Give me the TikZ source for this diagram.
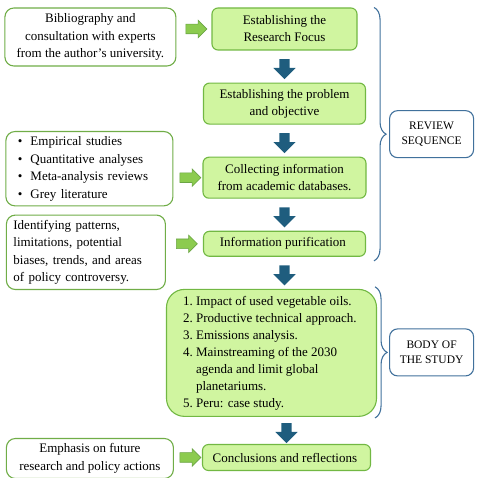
\documentclass[tikz,border=0pt]{standalone}
\usepackage{fontspec}
\setmainfont{Liberation Serif}
\usetikzlibrary{shapes.arrows, positioning, calc, decorations.pathreplacing}
\definecolor{stepfill}{HTML}{D0F5A0}
\definecolor{stepgreen}{HTML}{72B843}
\definecolor{notegreen}{HTML}{70AD47}
\definecolor{arrowgreen}{HTML}{8CCB4F}
\definecolor{arrowgreenline}{HTML}{6BA545}
\definecolor{arrowblue}{HTML}{1F5D7E}
\definecolor{braceblue}{HTML}{41719C}

\begin{document}
\begin{tikzpicture}[
    x=1pt, y=-1pt,
    main_step/.style={
        rectangle,
        draw=stepgreen,
        fill=stepfill,
        line width=1.1pt,
        rounded corners=6pt,
        inner sep=4pt,
        align=center,
        font=\fontsize{13}{17}\selectfont
    },
    side_note/.style={
        rectangle,
        draw=notegreen,
        fill=white,
        line width=1.1pt,
        rounded corners=9pt,
        inner sep=5pt,
        font=\fontsize{13}{17.5}\selectfont
    },
    stage_label/.style={
        rectangle,
        draw=braceblue,
        fill=white,
        line width=1.1pt,
        rounded corners=8pt,
        align=center,
        minimum width=84pt,
        minimum height=47pt,
        font=\fontsize{11.5}{15}\selectfont
    },
    green_arrow/.style={
        single arrow,
        draw=arrowgreenline,
        fill=arrowgreen,
        line width=0.6pt,
        minimum height=21pt,
        inner xsep=0pt,
        inner ysep=4.5pt,
        single arrow head extend=4pt
    },
    down_arrow/.style={
        single arrow,
        draw=none,
        fill=arrowblue,
        rotate=-90,
        minimum height=20pt,
        inner xsep=0pt,
        inner ysep=5pt,
        single arrow head extend=6pt
    },
    brace_line/.style={
        decorate,
        decoration={brace, amplitude=12pt},
        draw=braceblue,
        line width=1.1pt
    }
]
\useasboundingbox (0,0) rectangle (480,478);

% Main sequence of the review
\node[main_step, minimum width=145pt, minimum height=42pt] (focus) at (284.5,29) {
    Establishing the \\ Research Focus
};
\node[main_step, minimum width=162pt, minimum height=41pt, below=32pt of focus] (problem) {
    Establishing the problem \\ and objective
};
\node[main_step, minimum width=163pt, minimum height=41pt, below=32pt of problem] (collect) {
    Collecting information \\ from academic databases.
};
\node[main_step, minimum width=162pt, minimum height=25pt, below=32pt of collect] (purif) {
    Information purification
};
\node[main_step, rounded corners=18pt, inner ysep=1pt, minimum width=210pt, minimum height=127pt,
      below=32pt of purif, xshift=-13pt] (body) {
    \begin{tabular}{@{}r@{\ }l@{}}
        1. & Impact of used vegetable oils. \\
        2. & Productive technical approach. \\
        3. & Emissions analysis. \\
        4. & Mainstreaming of the 2030 \\
           & agenda and limit global \\
           & planetariums. \\
        5. & Peru: case study.
    \end{tabular}
};
\node[main_step, minimum width=168pt, minimum height=26pt, below=27pt of body, xshift=15pt] (concl) {
    Conclusions and reflections
};

% Inputs on the left
\node[side_note, align=center, minimum width=171pt, minimum height=58pt,
      left=35pt of focus, yshift=-8pt] (biblio) {
    Bibliography and \\ consultation with experts \\ from the author's university.
};
\node[side_note, align=left, text width=143pt, inner xsep=12pt, minimum height=73pt,
      left=29pt of collect, yshift=9pt] (sources) {
    \textbullet\hspace{8pt}Empirical studies \\
    \textbullet\hspace{8pt}Quantitative analyses \\
    \textbullet\hspace{8pt}Meta-analysis reviews \\
    \textbullet\hspace{8pt}Grey literature
};
\node[side_note, align=left, text width=145pt, inner xsep=7pt, minimum height=72pt,
      left=37pt of purif, yshift=-8.5pt] (patterns) {
    Identifying patterns, \\ limitations, potential \\ biases, trends, and areas \\ of policy controversy.
};
\node[side_note, align=center, minimum width=167pt, minimum height=40pt,
      left=28pt of concl, yshift=-1pt] (future) {
    Emphasis on future \\ research and policy actions
};

% Block arrows
\node[green_arrow] (ga1) at ($(biblio.east |- focus.west)!0.5!(focus.west)$) {};
\node[green_arrow] (ga2) at ($(sources.east |- collect.west)!0.5!(collect.west)$) {};
\node[green_arrow] (ga3) at ($(patterns.east |- purif.west)!0.5!(purif.west)$) {};
\node[green_arrow] (ga4) at ($(future.east |- concl.west)!0.5!(concl.west)$) {};

\node[down_arrow] (da1) at ($(focus.south)!0.5!(problem.north)$) {};
\node[down_arrow] (da2) at ($(problem.south)!0.5!(collect.north)$) {};
\node[down_arrow] (da3) at ($(collect.south)!0.5!(purif.north)$) {};
\node[down_arrow] (da4) at ($(purif.south)!0.5!(body.north -| purif.south)$) {};
\node[down_arrow] (da5) at ($(body.south -| concl.north)!0.5!(concl.north)$) {};

% Braces with stage labels
\draw[brace_line] ($(focus.north -| body.east)+(-3,0)$) -- node[stage_label, right=15pt] (review) {REVIEW \\ SEQUENCE} ($(purif.south -| body.east)+(-3,4)$);
\draw[brace_line] ($(body.north east)+(-2,-2)$) -- node[stage_label, right=14pt] (bodylabel) {BODY OF \\ THE STUDY} ($(body.south east)+(-2,1)$);

\end{tikzpicture}
\end{document}
